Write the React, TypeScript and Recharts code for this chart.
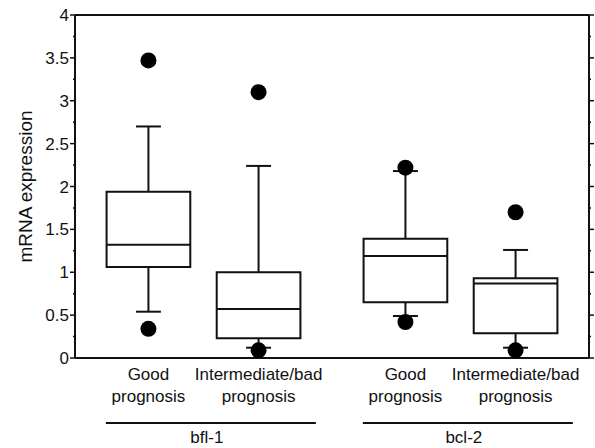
import React from "react";
import {
  ComposedChart,
  XAxis,
  YAxis,
  Scatter,
  ReferenceArea,
  ReferenceLine,
} from "recharts";

// box positions on a 0..7 numeric x scale (two groups of two)
const positions = [1, 2.5, 4.5, 6];
const labelTop = ["Good", "Intermediate/bad", "Good", "Intermediate/bad"];
const labelBottom = ["prognosis", "prognosis", "prognosis", "prognosis"];

const whiskerLow = [0.54, 0.12, 0.49, 0.12];
const q1 = [1.06, 0.23, 0.65, 0.29];
const median = [1.32, 0.57, 1.19, 0.87];
const q3 = [1.94, 1.0, 1.39, 0.93];
const whiskerHigh = [2.7, 2.24, 2.18, 1.26];
const outliers = [
  [3.47, 0.34],
  [3.1, 0.09],
  [2.22, 0.42],
  [1.7, 0.09],
];

const groups = ["bfl-1", "bcl-2"];
const groupPositions = [1.85, 5.35];

const yTicks = [0, 0.25, 0.5, 0.75, 1, 1.25, 1.5, 1.75, 2, 2.25, 2.5, 2.75, 3, 3.25, 3.5, 3.75, 4];

const FONT = "'Liberation Sans', Arial, Helvetica, sans-serif";
const INK = "#111";
const BOX_HALF = 0.57;
const CAP_HALF = 0.17;

const outlierPoints = outliers.flatMap((vals, i) =>
  vals.map((v) => ({ x: positions[i], y: v }))
);
// group brackets sit under the axis, anchored at y = 0
const groupPoints = groups.map((g, i) => ({ x: groupPositions[i], y: 0, name: g }));

const isMajor = (v: number) => Math.abs(v * 2 - Math.round(v * 2)) < 1e-6;

const LeftTick = ({ x, y, payload }: any) => {
  const major = isMajor(payload.value);
  return (
    <g>
      <line x1={x - (major ? 5 : 2)} x2={x} y1={y} y2={y} stroke={INK} strokeWidth={1.5} />
      {major && (
        <text x={x - 6} y={y} dy="0.36em" textAnchor="end" fontSize={17} fill={INK} fontFamily={FONT}>
          {payload.value}
        </text>
      )}
    </g>
  );
};

const RightTick = ({ x, y, payload }: any) => {
  const major = isMajor(payload.value);
  return <line x1={x} x2={x + (major ? 5 : 2)} y1={y} y2={y} stroke={INK} strokeWidth={1.5} />;
};

const CategoryTick = ({ x, y, payload }: any) => {
  const i = positions.indexOf(payload.value);
  return (
    <g fontFamily={FONT} fontSize={17} fill={INK} textAnchor="middle">
      <text x={x} y={y + 22}>{labelTop[i]}</text>
      <text x={x} y={y + 43.5}>{labelBottom[i]}</text>
    </g>
  );
};

const GroupMark = (props: any) => {
  const { cx, cy, payload } = props;
  return (
    <g>
      <line x1={cx - 105} x2={cx + 105} y1={cy + 65} y2={cy + 65} stroke={INK} strokeWidth={2} />
      <text x={cx - 4} y={cy + 85} textAnchor="middle" fontSize={17} fill={INK} fontFamily={FONT}>
        {payload.name}
      </text>
    </g>
  );
};

const Dot = (props: any) => <circle cx={props.cx} cy={props.cy} r={8} fill="#000" />;

const App: React.FC = () => {
  return (
    <div style={{ position: "absolute", left: 0, top: 0, width: 595, height: 448, background: "#fff" }}>
      <ComposedChart width={595} height={448} margin={{ top: 5, right: 0, bottom: 42, left: 0 }}>
        <XAxis
          type="number"
          dataKey="x"
          domain={[0, 7]}
          ticks={positions}
          interval={0}
          height={48}
          tickLine={false}
          tickSize={0}
          tickMargin={0}
          tick={<CategoryTick />}
          axisLine={{ stroke: INK, strokeWidth: 2 }}
        />
        <XAxis
          xAxisId="top"
          orientation="top"
          type="number"
          domain={[0, 7]}
          allowDataOverflow
          ticks={positions}
          interval={0}
          height={10}
          tick={false}
          tickSize={3}
          tickLine={{ stroke: INK, strokeWidth: 1.5 }}
          axisLine={{ stroke: INK, strokeWidth: 2 }}
        />
        <YAxis
          type="number"
          dataKey="y"
          domain={[0, 4]}
          ticks={yTicks}
          interval={0}
          width={75}
          tickLine={false}
          tickSize={0}
          tickMargin={0}
          tick={<LeftTick />}
          axisLine={{ stroke: INK, strokeWidth: 2 }}
          label={{
            value: "mRNA expression",
            angle: -90,
            position: "insideLeft",
            offset: 25,
            style: { textAnchor: "middle", fontSize: 19, fill: INK, fontFamily: FONT },
          }}
        />
        <YAxis
          yAxisId="right"
          orientation="right"
          type="number"
          domain={[0, 4]}
          allowDataOverflow
          ticks={yTicks}
          interval={0}
          width={6}
          tickLine={false}
          tickSize={0}
          tickMargin={0}
          tick={<RightTick />}
          axisLine={{ stroke: INK, strokeWidth: 2 }}
        />

        {positions.map((p, i) => (
          <ReferenceLine
            key={`wl-${i}`}
            segment={[{ x: p, y: whiskerLow[i] }, { x: p, y: q1[i] }]}
            stroke={INK}
            strokeWidth={2}
          />
        ))}
        {positions.map((p, i) => (
          <ReferenceLine
            key={`wh-${i}`}
            segment={[{ x: p, y: q3[i] }, { x: p, y: whiskerHigh[i] }]}
            stroke={INK}
            strokeWidth={2}
          />
        ))}
        {positions.map((p, i) => (
          <ReferenceLine
            key={`cl-${i}`}
            segment={[{ x: p - CAP_HALF, y: whiskerLow[i] }, { x: p + CAP_HALF, y: whiskerLow[i] }]}
            stroke={INK}
            strokeWidth={2}
          />
        ))}
        {positions.map((p, i) => (
          <ReferenceLine
            key={`ch-${i}`}
            segment={[{ x: p - CAP_HALF, y: whiskerHigh[i] }, { x: p + CAP_HALF, y: whiskerHigh[i] }]}
            stroke={INK}
            strokeWidth={2}
          />
        ))}
        {positions.map((p, i) => (
          <ReferenceArea
            key={`box-${i}`}
            x1={p - BOX_HALF}
            x2={p + BOX_HALF}
            y1={q1[i]}
            y2={q3[i]}
            fill="#fff"
            fillOpacity={1}
            stroke={INK}
            strokeWidth={2}
          />
        ))}
        {positions.map((p, i) => (
          <ReferenceLine
            key={`med-${i}`}
            segment={[{ x: p - BOX_HALF, y: median[i] }, { x: p + BOX_HALF, y: median[i] }]}
            stroke={INK}
            strokeWidth={2}
          />
        ))}
        <Scatter data={outlierPoints} shape={<Dot />} isAnimationActive={false} />
        <Scatter data={groupPoints} shape={<GroupMark />} isAnimationActive={false} />
      </ComposedChart>
    </div>
  );
};

export default App;
